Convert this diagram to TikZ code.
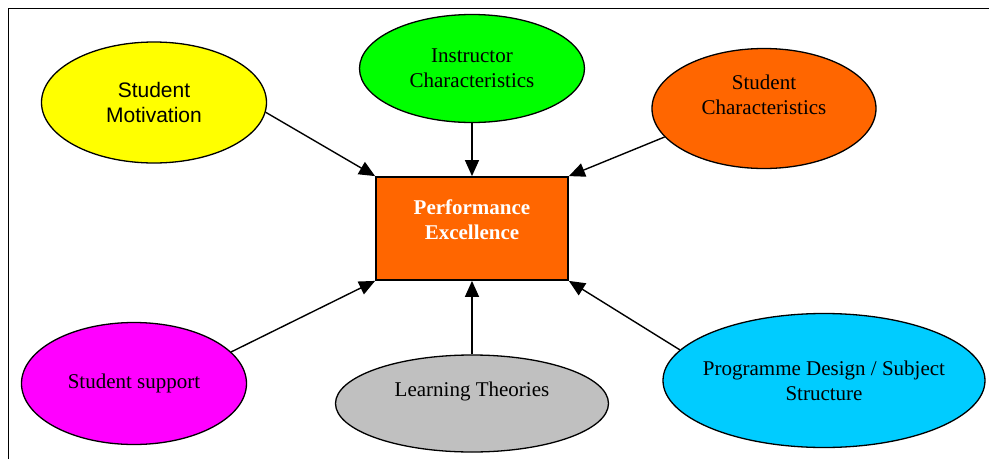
\documentclass[tikz,border=0pt]{standalone}
\usepackage{fontspec}
\setmainfont{Liberation Serif}
\setsansfont{Liberation Sans}
\usepackage{tikz}
\usetikzlibrary{shapes.geometric, arrows.meta, positioning}
\definecolor{motyellow}{RGB}{255,255,0}
\definecolor{instgreen}{RGB}{0,255,0}
\definecolor{perforange}{RGB}{255,102,0}
\definecolor{suppmagenta}{RGB}{255,0,255}
\definecolor{learngray}{RGB}{192,192,192}
\definecolor{progcyan}{RGB}{0,204,255}
% testo sollevato dentro il nodo
\newcommand{\lifted}[2]{\raisebox{#1}[\height][\depth]{\begin{tabular}{@{}c@{}}#2\end{tabular}}}

\begin{document}
\begin{tikzpicture}[x=1pt,y=1pt,
    bubble/.style={ellipse,draw=black,line width=1.3pt,inner sep=0pt,align=center,font=\fontsize{21}{25}\selectfont},
    goalbox/.style={rectangle,draw=black,line width=1.8pt,fill=perforange,text=white,align=center,minimum width=192pt,minimum height=103pt,font=\fontsize{21}{25}\selectfont\bfseries},
    link/.style={-{Triangle[length=16pt,width=14pt]},line width=1.4pt}]
    \useasboundingbox (-472,-230.5) rectangle (517,228.5);
    % cornice
    \draw[line width=1.8pt] (-463.5,-230.5) -- (-463.5,220) -- (517,220);

    % obiettivo al centro
    \node[goalbox] (perf) at (0,0) {\lifted{7pt}{Performance\\Excellence}};

    % fattori in alto
    \node[bubble,fill=motyellow,minimum width=225pt,minimum height=121pt,font=\fontsize{21}{25}\selectfont\sffamily] (motiv) at (-318,126) {Student\\Motivation};
    \node[bubble,fill=instgreen,minimum width=225pt,minimum height=108pt] (instr) at (0,160) {Instructor\\Characteristics};
    \node[bubble,fill=perforange,minimum width=224pt,minimum height=120pt] (schar) at (292,120) {\lifted{12pt}{Student\\Characteristics}};

    % fattori in basso
    \node[bubble,fill=suppmagenta,minimum width=225pt,minimum height=122pt] (supp) at (-338,-155) {Student support};
    \node[bubble,fill=learngray,minimum width=273pt,minimum height=97pt] (learn) at (0,-175) {\lifted{12pt}{Learning Theories}};
    \node[bubble,fill=progcyan,minimum width=322pt,minimum height=134pt,inner xsep=-14pt] (prog) at (352,-152) {Programme Design / Subject\\Structure};

    % frecce
    \draw[link] (motiv.-5) -- (perf.north west);
    \draw[link] (instr.south) -- (perf.north);
    \draw[link] (schar.196) -- (perf.north east);
    \draw[link] (supp.18) -- (perf.south west);
    \draw[link] (learn.north) -- (perf.south);
    \draw[link] (prog.168) -- (perf.south east);
\end{tikzpicture}
\end{document}
